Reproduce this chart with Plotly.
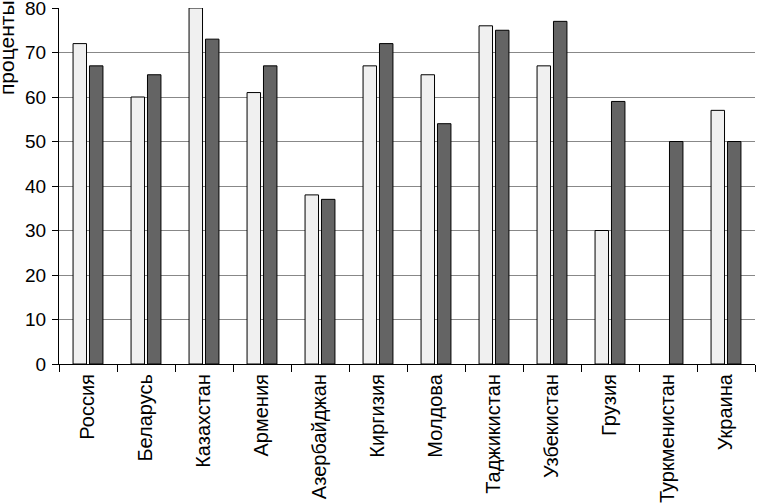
import plotly.graph_objects as go

categories = ["Россия", "Беларусь", "Казахстан", "Армения", "Азербайджан", "Киргизия",
              "Молдова", "Таджикистан", "Узбекистан", "Грузия", "Туркменистан", "Украина"]
series_light = [72, 60, 80, 61, 38, 67, 65, 76, 67, 30, None, 57]
series_dark = [67, 65, 73, 67, 37, 72, 54, 75, 77, 59, 50, 50]
y_ticks = [0, 10, 20, 30, 40, 50, 60, 70, 80]
y_title = "проценты"

FONT = "Liberation Sans, Arial, sans-serif"

fig = go.Figure()
fig.add_trace(go.Bar(x=categories, y=series_light, marker=dict(color="#f0f0f0", line=dict(color="#000000", width=1)),
                     showlegend=False))
fig.add_trace(go.Bar(x=categories, y=series_dark, marker=dict(color="#646464", line=dict(color="#000000", width=1)),
                     showlegend=False))

fig.update_layout(
    width=757, height=503,
    margin=dict(l=59, r=2, t=8, b=139),
    plot_bgcolor="white", paper_bgcolor="white",
    barmode="group", bargap=0.434, bargroupgap=0.18,
    font=dict(family=FONT, size=19, color="#000000"),
)
fig.update_yaxes(range=[0, 80], tickvals=y_ticks, showgrid=True, gridcolor="#888888", gridwidth=1,
                 showline=True, linecolor="#000000", linewidth=1.2, ticks="outside", ticklen=6,
                 tickcolor="#000000", tickfont=dict(size=19), zeroline=False, automargin=False,
                 ticklabeloverflow="allow", ticklabelstandoff=2)
fig.update_xaxes(showline=True, linecolor="#000000", linewidth=1.2, ticks="outside", ticklen=7,
                 tickcolor="#000000", tickson="boundaries", tickangle=-90, tickfont=dict(size=20),
                 showgrid=False, automargin=False, ticklabelstandoff=1)
fig.add_annotation(text=y_title, xref="paper", yref="paper", x=-59 / 696, y=1 + 8 / 356,
                   xanchor="left", yanchor="top", xshift=-7, yshift=2,
                   textangle=-90, showarrow=False, font=dict(size=21))
fig.write_html("out.html", config={"displayModeBar": False},
               post_script="document.body.style.margin='0px';document.body.style.overflow='hidden';")
